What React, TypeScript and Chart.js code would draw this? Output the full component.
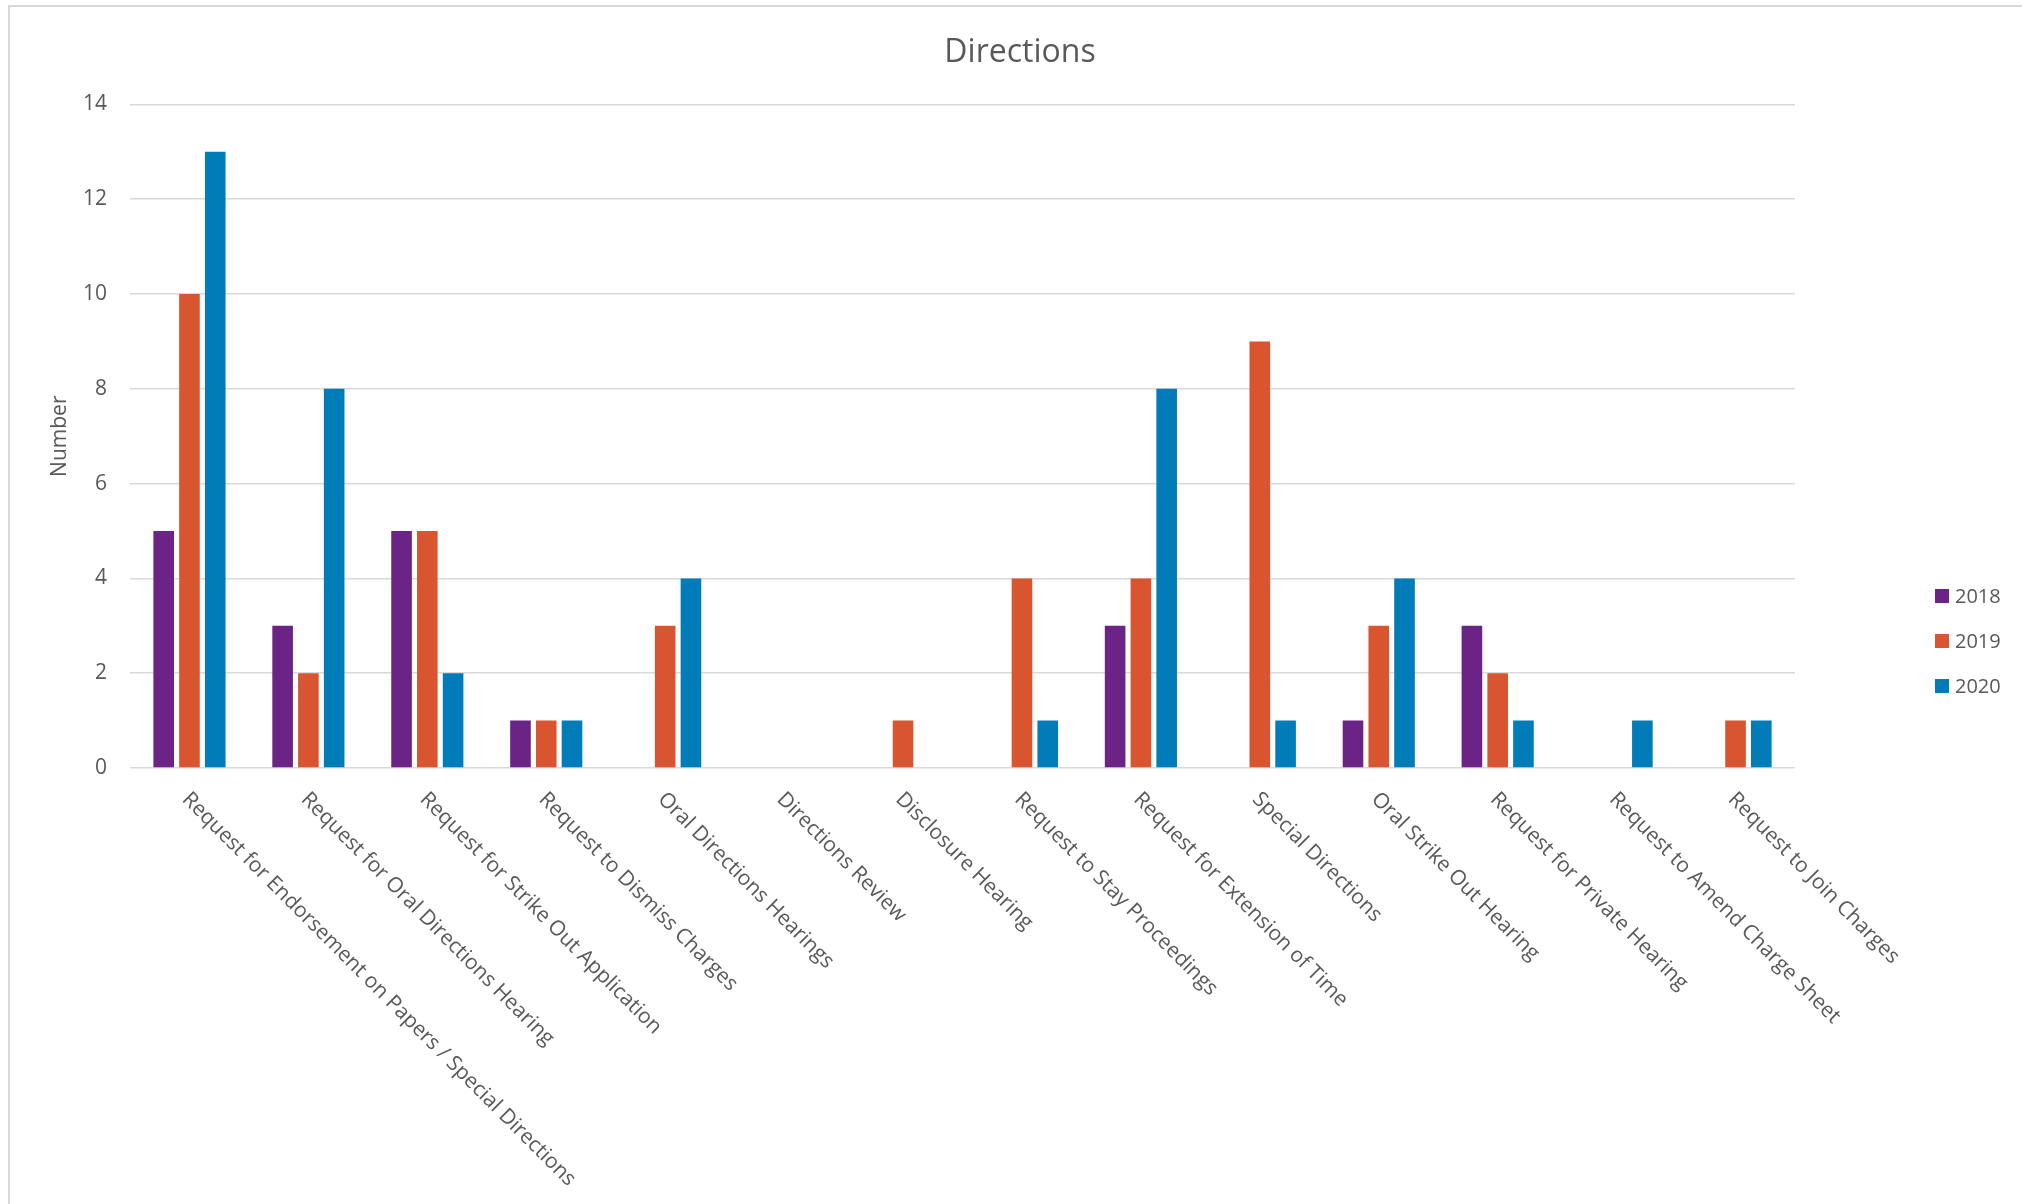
import React, { useEffect, useRef } from "react";
import { Chart, registerables } from "chart.js";

Chart.register(...registerables);

const categories: string[] = [
  "Request for Endorsement on Papers / Special Directions",
  "Request for Oral Directions Hearing",
  "Request for Strike Out Application",
  "Request to Dismiss Charges",
  "Oral Directions Hearings",
  "Directions Review",
  "Disclosure Hearing",
  "Request to Stay Proceedings",
  "Request for Extension of Time",
  "Special Directions",
  "Oral Strike Out Hearing",
  "Request for Private Hearing",
  "Request to Amend Charge Sheet",
  "Request to Join Charges",
];

const values2018: number[] = [5, 3, 5, 1, 0, 0, 0, 0, 3, 0, 1, 3, 0, 0];
const values2019: number[] = [10, 2, 5, 1, 3, 0, 1, 4, 4, 9, 3, 2, 0, 1];
const values2020: number[] = [13, 8, 2, 1, 4, 0, 0, 1, 8, 1, 4, 1, 1, 1];

const seriesLabels: string[] = ["2018", "2019", "2020"];
const seriesColors: string[] = ["#6B2385", "#D9552F", "#007DB8"];

const yTicks: number[] = [0, 2, 4, 6, 8, 10, 12, 14];

const TEXT = "#595959";
const GRID = "#D9D9D9";
const FONT = "'Open Sans', 'DejaVu Sans', sans-serif";

const W = 2012;
const H = 1197;

// Category labels run diagonally downwards from each tick
const slantedLabels = {
  id: "slantedLabels",
  afterDraw(chart: any) {
    const x = chart.scales.x;
    const ctx = chart.ctx;
    const top = chart.chartArea.bottom + 28;
    ctx.save();
    ctx.fillStyle = TEXT;
    ctx.font = `21px ${FONT}`;
    ctx.textAlign = "left";
    ctx.textBaseline = "middle";
    categories.forEach((label, i) => {
      const px = x.getPixelForTick(i);
      ctx.save();
      ctx.translate(px - 4, top);
      ctx.rotate(Math.PI / 4);
      ctx.fillText(label, 0, 0);
      ctx.restore();
    });
    ctx.restore();
  },
};

// Series key at the right-hand side
const sideLegend = {
  id: "sideLegend",
  afterDraw(chart: any) {
    const ctx = chart.ctx;
    const x0 = 1925;
    const y0 = 589;
    const gap = 45;
    ctx.save();
    ctx.font = `20px ${FONT}`;
    ctx.textAlign = "left";
    ctx.textBaseline = "middle";
    chart.data.datasets.forEach((ds: any, i: number) => {
      const cy = y0 + i * gap;
      ctx.fillStyle = ds.backgroundColor;
      ctx.fillRect(x0, cy - 7, 14, 14);
      ctx.fillStyle = TEXT;
      ctx.fillText(ds.label, x0 + 20, cy + 1);
    });
    ctx.restore();
  },
};

export default function App() {
  const canvasRef = useRef<HTMLCanvasElement | null>(null);

  useEffect(() => {
    const canvas = canvasRef.current;
    if (!canvas) return;
    const series = [values2018, values2019, values2020];
    const chart = new Chart(canvas, {
      type: "bar",
      data: {
        labels: categories,
        datasets: series.map((vals, i) => ({
          label: seriesLabels[i],
          data: vals,
          backgroundColor: seriesColors[i],
          borderWidth: 0,
          categoryPercentage: 0.65,
          barPercentage: 0.8,
        })),
      },
      options: {
        responsive: false,
        animation: false,
        devicePixelRatio: 1,
        layout: { padding: { left: 8, right: 0, top: 0, bottom: 0 } },
        plugins: {
          legend: { display: false },
          tooltip: { enabled: false },
          title: {
            display: true,
            text: "Directions",
            color: TEXT,
            font: { family: FONT, size: 32, weight: "normal" },
            padding: { top: 27, bottom: 32 },
          },
        },
        scales: {
          x: {
            grid: { display: false },
            border: { display: false },
            ticks: { display: false },
            afterFit: (s: any) => {
              s.height = H - 761;
            },
          },
          y: {
            min: 0,
            max: 14,
            afterBuildTicks: (s: any) => {
              s.ticks = yTicks.map((v) => ({ value: v }));
            },
            grid: { color: GRID, lineWidth: 1.5, drawTicks: false },
            border: { display: false },
            ticks: {
              color: TEXT,
              font: { family: FONT, size: 21 },
              padding: 23,
            },
            title: {
              display: true,
              text: "Number",
              color: TEXT,
              font: { family: FONT, size: 21 },
              padding: { top: 29, bottom: 0 },
            },
            afterFit: (s: any) => {
              s.width = 112;
            },
          },
          pad: {
            type: "linear",
            position: "right",
            display: true,
            grid: { display: false },
            border: { display: false },
            ticks: { display: false },
            afterFit: (s: any) => {
              s.width = 227;
            },
          },
        },
      },
      plugins: [slantedLabels, sideLegend],
    } as any);
    return () => chart.destroy();
  }, []);

  return (
    <div
      style={{
        position: "fixed",
        left: 8,
        top: 5,
        width: W,
        height: H,
        borderLeft: `2px solid ${GRID}`,
        borderTop: `2px solid ${GRID}`,
        background: "#fff",
      }}
    >
      <canvas ref={canvasRef} width={W} height={H} style={{ display: "block" }} />
    </div>
  );
}
